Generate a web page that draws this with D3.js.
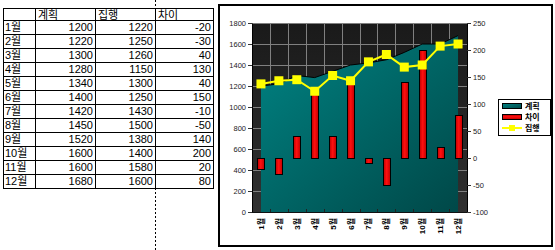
<!DOCTYPE html>
<html>
<head>
<meta charset="utf-8">
<script src="https://cdn.jsdelivr.net/npm/d3@7"></script>
<style>
body{margin:0;background:#fff;}
svg text{font-family:"Liberation Sans","Noto Sans CJK KR",sans-serif;}
</style>
</head>
<body>
<svg class="sheet" width="555" height="250"></svg>
<script>
// data
var months = ["1월","2월","3월","4월","5월","6월","7월","8월","9월","10월","11월","12월"];
var plan   = [1200,1220,1300,1280,1340,1400,1420,1450,1520,1600,1600,1680];
var actual = [1220,1250,1260,1150,1300,1250,1430,1500,1380,1400,1580,1600];
var diff   = [-20,-30,40,130,40,150,-10,-50,140,200,20,80];
var headers = ["계획","집행","차이"];
var leftTicks = [0,200,400,600,800,1000,1200,1400,1600,1800];
var rightTicks = [-100,-50,0,50,100,150,200,250];

var svg = d3.select(".sheet");
var defs = svg.append("defs");

// ---------- table on the left ----------
var colX = [3,35,95,155,213],
    tTop = 8, headH = 12, rowH = 14;
var tbl = svg.append("g").attr("font-size", 11).attr("fill", "#000");
var nRows = months.length;
var tBot = tTop + headH + rowH * nRows;

// page break dotted line
svg.append("line").attr("x1",155.5).attr("x2",155.5).attr("y1",0).attr("y2",tTop)
  .attr("stroke","#000").attr("stroke-dasharray","2,2");
svg.append("line").attr("x1",155.5).attr("x2",155.5).attr("y1",tBot).attr("y2",250)
  .attr("stroke","#000").attr("stroke-dasharray","2,2");

colX.forEach(function(c){
  tbl.append("line").attr("x1",c+0.5).attr("x2",c+0.5).attr("y1",tTop).attr("y2",tBot+1)
    .attr("stroke","#000");
});
var hl = [tTop, tTop+headH].concat(months.map(function(m,i){ return tTop+headH+rowH*(i+1); }));
hl.forEach(function(yy){
  tbl.append("line").attr("x1",colX[0]).attr("x2",colX[4]+1).attr("y1",yy+0.5).attr("y2",yy+0.5)
    .attr("stroke","#000");
});
headers.forEach(function(h,i){
  tbl.append("text").attr("x",colX[i+1]+3).attr("y",tTop+headH-1).text(h);
});
months.forEach(function(m,i){
  var yy = tTop + headH + rowH*(i+1) - 3;
  var vals = [plan[i], actual[i], diff[i]];
  tbl.append("text").attr("x",colX[0]+2).attr("y",yy).text(m);
  vals.forEach(function(v,j){
    tbl.append("text").attr("x",colX[j+2]-2).attr("y",yy).attr("text-anchor","end").text(String(v));
  });
});

// ---------- chart ----------
svg.append("rect").attr("x",219).attr("y",5).attr("width",333).attr("height",241)
  .attr("fill","#fff").attr("stroke","#000").attr("stroke-width",2);

var px0 = 252, px1 = 467, py0 = 23, py1 = 212;
var x = d3.scaleBand().domain(months).range([px0, px1]).padding(0);
var yL = d3.scaleLinear().domain([0,1800]).range([py1, py0]);
var yR = d3.scaleLinear().domain([-100,250]).range([py1, py0]);
var cx = function(m){ return x(m) + x.bandwidth()/2; };

var bg = defs.append("linearGradient").attr("id","bg").attr("x1",0).attr("y1",0).attr("x2",0).attr("y2",1);
bg.append("stop").attr("offset","0%").attr("stop-color","#1a1a1a");
bg.append("stop").attr("offset","100%").attr("stop-color","#303030");

var tg = defs.append("linearGradient").attr("id","teal").attr("x1",0).attr("y1",0).attr("x2",1).attr("y2",1);
tg.append("stop").attr("offset","0%").attr("stop-color","#008383");
tg.append("stop").attr("offset","100%").attr("stop-color","#004848");

var rg = defs.append("linearGradient").attr("id","red").attr("x1",0).attr("y1",0).attr("x2",1).attr("y2",0);
rg.append("stop").attr("offset","0%").attr("stop-color","#c00000");
rg.append("stop").attr("offset","45%").attr("stop-color","#ff1010");
rg.append("stop").attr("offset","100%").attr("stop-color","#c00000");

var lg = defs.append("linearGradient").attr("id","redv").attr("x1",0).attr("y1",0).attr("x2",0).attr("y2",1);
lg.append("stop").attr("offset","0%").attr("stop-color","#c00000");
lg.append("stop").attr("offset","45%").attr("stop-color","#ff1010");
lg.append("stop").attr("offset","100%").attr("stop-color","#c00000");

var g = svg.append("g");
g.append("rect").attr("x",px0).attr("y",py0).attr("width",px1-px0).attr("height",py1-py0)
  .attr("fill","url(#bg)");

// grid
g.selectAll(".hg").data(leftTicks.slice(1)).enter().append("line")
  .attr("x1",px0).attr("x2",px1).attr("y1",function(d){return Math.round(yL(d))+0.5;})
  .attr("y2",function(d){return Math.round(yL(d))+0.5;})
  .attr("stroke","#808080");
g.selectAll(".vg").data(months.slice(1)).enter().append("line")
  .attr("x1",function(d){return Math.round(x(d))+0.5;}).attr("x2",function(d){return Math.round(x(d))+0.5;})
  .attr("y1",py0).attr("y2",py1).attr("stroke","#808080");

// plan area
var area = d3.area().x(function(d,i){return cx(months[i]);}).y0(yL(0)).y1(function(d){return yL(d);});
g.append("path").datum(plan).attr("d",area).attr("fill","url(#teal)");
var edge = d3.line().x(function(d,i){return cx(months[i]);}).y(function(d){return yL(d);});
g.append("path").datum(plan).attr("d",edge).attr("fill","none").attr("stroke","#000").attr("stroke-width",1);

// x ticks along the floor
g.selectAll(".xt").data(months.slice(1)).enter().append("line")
  .attr("x1",function(d){return Math.round(x(d))+0.5;}).attr("x2",function(d){return Math.round(x(d))+0.5;})
  .attr("y1",py1-3).attr("y2",py1).attr("stroke","#222");

// diff bars
var bw = 7;
g.selectAll(".bar").data(diff).enter().append("rect")
  .attr("x",function(d,i){return Math.round(cx(months[i])-bw/2)+0.5;})
  .attr("y",function(d){return Math.round(yR(Math.max(0,d)))+0.5;})
  .attr("width",bw)
  .attr("height",function(d){return Math.abs(Math.round(yR(0))-Math.round(yR(d)));})
  .attr("fill","url(#red)").attr("stroke","#000").attr("stroke-width",1);

// actual line
var ln = d3.line().x(function(d,i){return cx(months[i]);}).y(function(d){return yL(d);});
g.append("path").datum(actual).attr("d",ln).attr("fill","none").attr("stroke","#ffff00").attr("stroke-width",2);
var ms = 9;
g.selectAll(".mk").data(actual).enter().append("rect")
  .attr("x",function(d,i){return cx(months[i])-ms/2;})
  .attr("y",function(d){return yL(d)-ms/2;})
  .attr("width",ms).attr("height",ms).attr("fill","#ffff00");

// axes
var plain = function(d){ return String(d); };
var ax = svg.append("g").attr("transform","translate(" + px0 + ",0)")
  .call(d3.axisLeft(yL).tickValues(leftTicks).tickFormat(plain).tickSize(4).tickPadding(2).tickSizeOuter(0));
var axr = svg.append("g").attr("transform","translate(" + px1 + ",0)")
  .call(d3.axisRight(yR).tickValues(rightTicks).tickFormat(plain).tickSize(4).tickPadding(2).tickSizeOuter(0));
[ax, axr].forEach(function(a){
  a.attr("font-size",7.5).attr("font-family",null);
  a.select(".domain").attr("stroke","#000");
  a.selectAll(".tick line").attr("stroke","#333");
  a.selectAll(".tick text").attr("fill","#222");
});
svg.append("line").attr("x1",px0).attr("x2",px1).attr("y1",py1+0.5).attr("y2",py1+0.5).attr("stroke","#111");

// month labels, rotated
svg.selectAll(".xl").data(months).enter().append("text")
  .attr("transform",function(d){return "translate(" + (cx(d)+3) + "," + (py1+6) + ") rotate(-90)";})
  .attr("text-anchor","end").attr("font-size",8).attr("font-weight","bold").attr("fill","#000")
  .text(function(d){return d;});

// legend
var leg = svg.append("g").attr("transform","translate(498,99)");
leg.append("rect").attr("x",0.5).attr("y",0.5).attr("width",52).attr("height",36)
  .attr("fill","#fff").attr("stroke","#000");
var legItems = [
  {name:"계획", kind:"area"},
  {name:"차이", kind:"bar"},
  {name:"집행", kind:"line"}
];
legItems.forEach(function(it,i){
  var yy = 7 + i*11;
  if (it.kind === "area") {
    leg.append("rect").attr("x",4.5).attr("y",yy-2.5).attr("width",19).attr("height",5)
      .attr("fill","url(#teal)").attr("stroke","#000");
  } else if (it.kind === "bar") {
    leg.append("rect").attr("x",4.5).attr("y",yy-2.5).attr("width",19).attr("height",5)
      .attr("fill","url(#redv)").attr("stroke","#000");
  } else {
    leg.append("line").attr("x1",4).attr("x2",24).attr("y1",yy).attr("y2",yy)
      .attr("stroke","#ffff00").attr("stroke-width",2);
    leg.append("rect").attr("x",11).attr("y",yy-3).attr("width",6).attr("height",6).attr("fill","#ffff00");
  }
  leg.append("text").attr("x",27).attr("y",yy+3).attr("font-size",8).attr("font-weight","bold")
    .text(it.name);
});
</script>
</body>
</html>
